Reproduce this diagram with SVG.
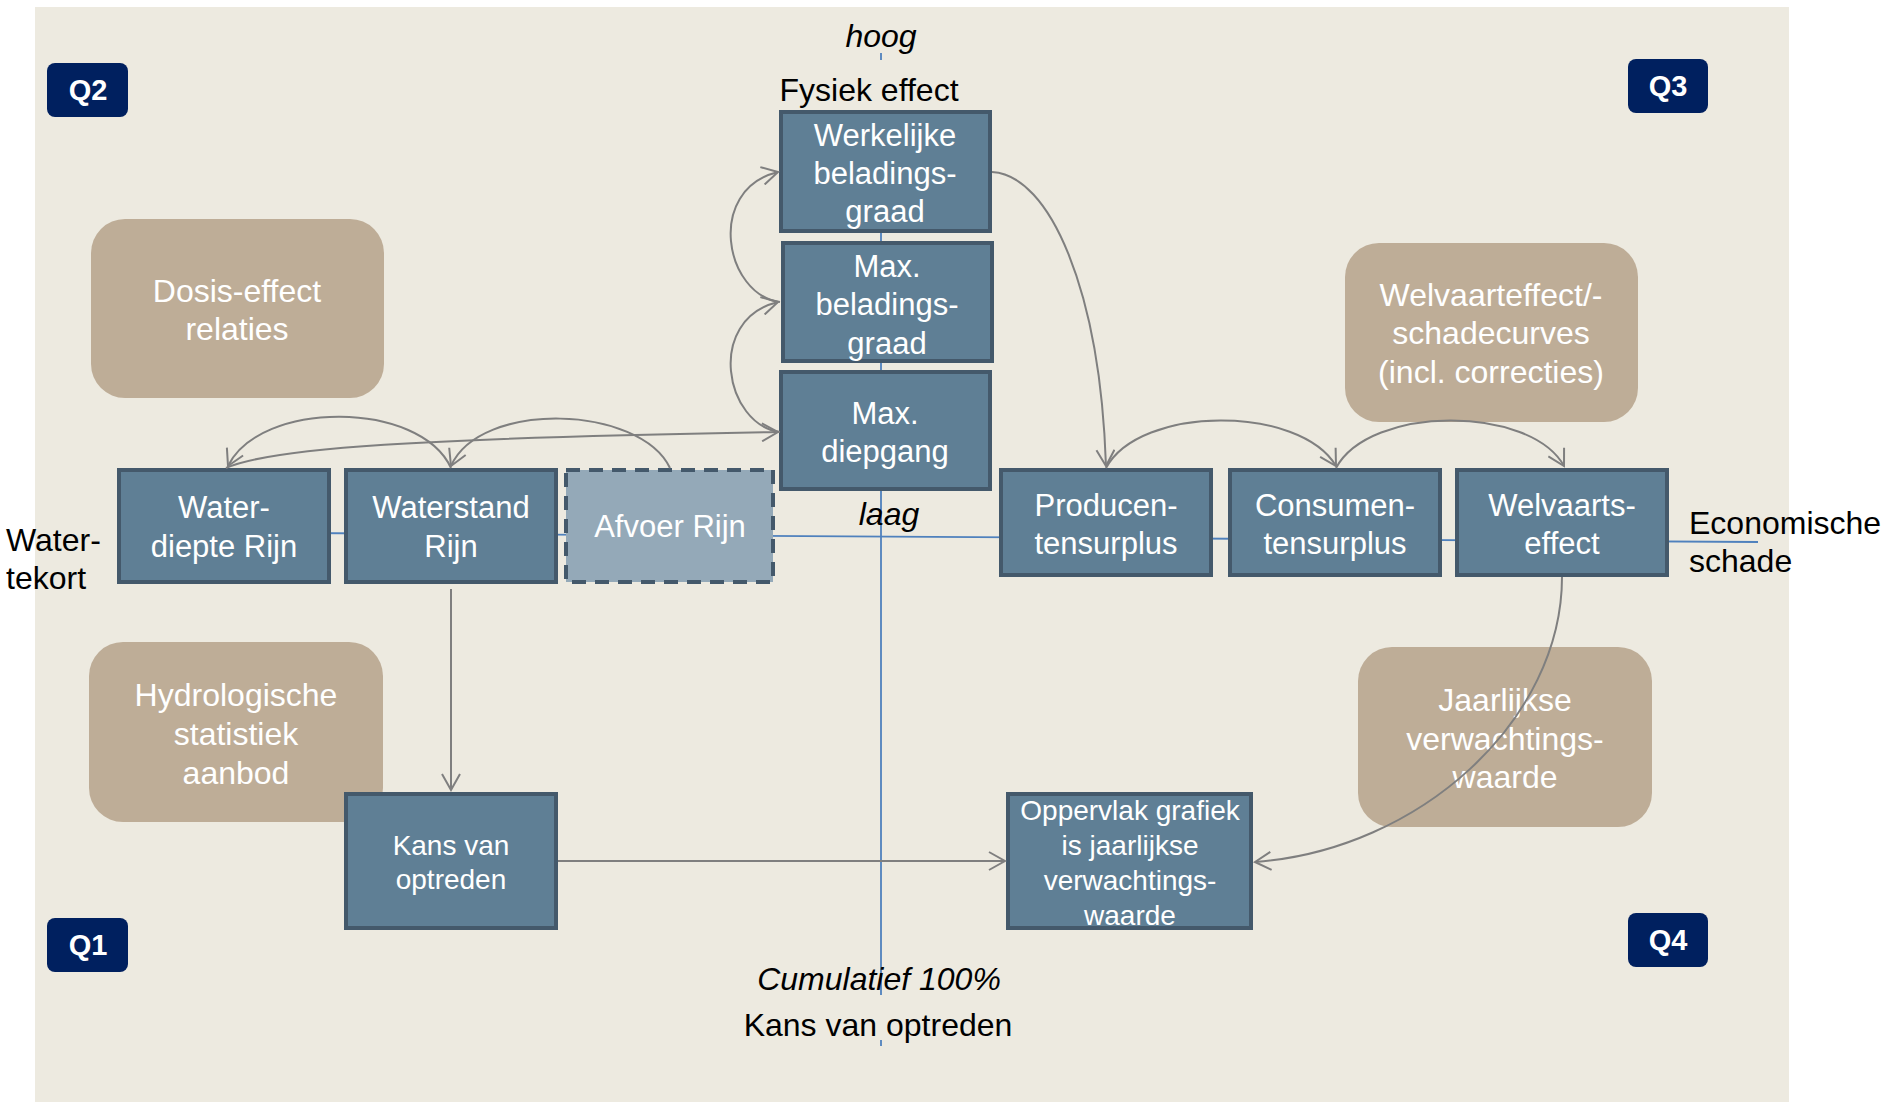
<svg xmlns="http://www.w3.org/2000/svg" width="1893" height="1104" viewBox="0 0 1893 1104">
<defs>
<style>
.bg{fill:#EDEAE0}
.box{fill:#5F7F95;stroke:#44596B;stroke-width:4}
.dash{fill:#94A9B8;stroke:#44596B;stroke-width:4;stroke-dasharray:14 9}
.tan{fill:#BEAD97}
.q{fill:#00205F}
.qt{font-family:"Liberation Sans",Arial,sans-serif;font-weight:bold;font-size:29px;fill:#FFFFFF;text-anchor:middle}
.bt{font-family:"Liberation Sans",Arial,sans-serif;font-size:31px;fill:#FFFFFF;text-anchor:middle}
.st{font-family:"Liberation Sans",Arial,sans-serif;font-size:28px;fill:#FFFFFF;text-anchor:middle}
.tt{font-family:"Liberation Sans",Arial,sans-serif;font-size:32px;fill:#FFFFFF;text-anchor:middle}
.lbl{font-family:"Liberation Sans",Arial,sans-serif;font-size:32px;fill:#000000}
.it{font-style:italic}
.conn{fill:none;stroke:#7F7F7F;stroke-width:2}
.axis{fill:none;stroke:#4F81BD;stroke-width:1.8}
</style>
<marker id="arr" viewBox="0 0 20 20" refX="18" refY="10" markerWidth="20" markerHeight="20" markerUnits="userSpaceOnUse" orient="auto">
<path d="M2,1 L18,10 L2,19" fill="none" stroke="#7F7F7F" stroke-width="2"/>
</marker>
</defs>
<rect x="0" y="0" width="1893" height="1104" fill="#FFFFFF"/>
<rect class="bg" x="35" y="7" width="1754" height="1095"/>

<g id="axes">
<line class="axis" x1="881" y1="53" x2="881" y2="60"/>
<line class="axis" x1="881" y1="110" x2="881" y2="995"/>
<line class="axis" x1="881" y1="1040" x2="881" y2="1046"/>
<line class="axis" x1="300" y1="533" x2="1758" y2="542"/>
</g>

<g id="tan-dosis"><rect class="tan" x="91" y="219" width="293" height="179" rx="34"/>
<text class="tt" x="237" y="302">Dosis-effect</text><text class="tt" x="237" y="340">relaties</text></g>
<g id="tan-welvaart"><rect class="tan" x="1345" y="243" width="293" height="179" rx="34"/>
<text class="tt" x="1491" y="306">Welvaarteffect/-</text><text class="tt" x="1491" y="344">schadecurves</text><text class="tt" x="1491" y="383">(incl. correcties)</text></g>
<g id="tan-hydro"><rect class="tan" x="89" y="642" width="294" height="180" rx="34"/>
<text class="tt" x="236" y="706">Hydrologische</text><text class="tt" x="236" y="745">statistiek</text><text class="tt" x="236" y="784">aanbod</text></g>
<g id="tan-jaar"><rect class="tan" x="1358" y="647" width="294" height="180" rx="34"/>
<text class="tt" x="1505" y="711">Jaarlijkse</text><text class="tt" x="1505" y="750">verwachtings-</text><text class="tt" x="1505" y="788">waarde</text></g>

<g id="q2"><rect class="q" x="47" y="63" width="81" height="54" rx="8"/><text class="qt" x="88" y="100">Q2</text></g>
<g id="q3"><rect class="q" x="1628" y="59" width="80" height="54" rx="8"/><text class="qt" x="1668" y="96">Q3</text></g>
<g id="q1"><rect class="q" x="47" y="918" width="81" height="54" rx="8"/><text class="qt" x="88" y="955">Q1</text></g>
<g id="q4"><rect class="q" x="1628" y="913" width="80" height="54" rx="8"/><text class="qt" x="1668" y="950">Q4</text></g>

<g id="werkelijke"><rect class="box" x="781" y="112" width="209" height="119"/>
<text class="bt" x="885" y="146">Werkelijke</text><text class="bt" x="885" y="184">beladings-</text><text class="bt" x="885" y="222">graad</text></g>
<g id="maxbelading"><rect class="box" x="783" y="243" width="209" height="118"/>
<text class="bt" x="887" y="277">Max.</text><text class="bt" x="887" y="315">beladings-</text><text class="bt" x="887" y="354">graad</text></g>
<g id="maxdiepgang"><rect class="box" x="781" y="372" width="209" height="117"/>
<text class="bt" x="885" y="424">Max.</text><text class="bt" x="885" y="462">diepgang</text></g>

<g id="waterdiepte"><rect class="box" x="119" y="470" width="210" height="112"/>
<text class="bt" x="224" y="518">Water-</text><text class="bt" x="224" y="557">diepte Rijn</text></g>
<g id="waterstand"><rect class="box" x="346" y="470" width="210" height="112"/>
<text class="bt" x="451" y="518">Waterstand</text><text class="bt" x="451" y="557">Rijn</text></g>
<g id="afvoer"><rect class="dash" x="566" y="470" width="207" height="112"/>
<text class="bt" x="670" y="537">Afvoer Rijn</text></g>

<g id="producen"><rect class="box" x="1001" y="470" width="210" height="105"/>
<text class="bt" x="1106" y="516">Producen-</text><text class="bt" x="1106" y="554">tensurplus</text></g>
<g id="consumen"><rect class="box" x="1230" y="470" width="210" height="105"/>
<text class="bt" x="1335" y="516">Consumen-</text><text class="bt" x="1335" y="554">tensurplus</text></g>
<g id="welvaarts"><rect class="box" x="1457" y="470" width="210" height="105"/>
<text class="bt" x="1562" y="516">Welvaarts-</text><text class="bt" x="1562" y="554">effect</text></g>

<g id="kans"><rect class="box" x="346" y="794" width="210" height="134"/>
<text class="st" x="451" y="855">Kans van</text><text class="st" x="451" y="889">optreden</text></g>
<g id="oppervlak"><rect class="box" x="1008" y="794" width="243" height="134"/>
<text class="st" x="1130" y="820">Oppervlak grafiek</text><text class="st" x="1130" y="855">is jaarlijkse</text><text class="st" x="1130" y="890">verwachtings-</text><text class="st" x="1130" y="925">waarde</text></g>

<g id="labels">
<text class="lbl it" x="881" y="47" text-anchor="middle">hoog</text>
<text class="lbl" x="869" y="101" text-anchor="middle">Fysiek effect</text>
<text class="lbl it" x="889" y="525" text-anchor="middle">laag</text>
<text class="lbl" x="6" y="551">Water-</text>
<text class="lbl" x="6" y="589">tekort</text>
<text class="lbl" x="1689" y="534">Economische</text>
<text class="lbl" x="1689" y="572">schade</text>
<text class="lbl it" x="879" y="990" text-anchor="middle">Cumulatief 100%</text>
<text class="lbl" x="878" y="1036" text-anchor="middle">Kans van optreden</text>
</g>

<g id="connectors">
<path class="conn" marker-end="url(#arr)" d="M992,172 C1050,175 1100,290 1106,466"/>
<path class="conn" marker-end="url(#arr)" d="M780,432 C725,425 705,320 778,302"/>
<path class="conn" marker-end="url(#arr)" d="M780,302 C725,295 705,190 778,172"/>
<path class="conn" marker-end="url(#arr)" d="M670,468 C640,405 480,400 451,466"/>
<path class="conn" marker-end="url(#arr)" d="M451,468 C420,400 260,400 228,466"/>
<path class="conn" marker-end="url(#arr)" d="M226,468 C270,448 420,438 778,432"/>
<path class="conn" marker-end="url(#arr)" d="M1106,468 C1140,405 1300,405 1336,466"/>
<path class="conn" marker-end="url(#arr)" d="M1336,468 C1370,405 1530,405 1564,466"/>
<path class="conn" marker-end="url(#arr)" d="M1562,577 C1562,720 1420,850 1255,862"/>
<path class="conn" marker-end="url(#arr)" d="M451,589 L451,790"/>
<path class="conn" stroke-width="2.5" marker-end="url(#arr)" d="M558,861 L1005,861"/>
</g>
</svg>
